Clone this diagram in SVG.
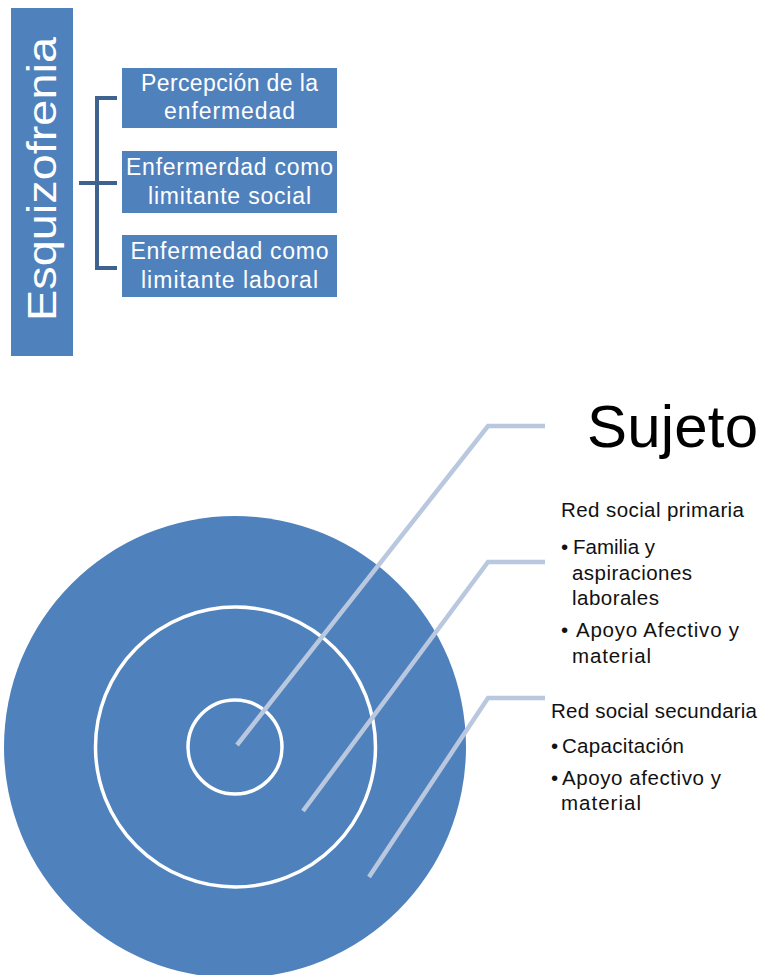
<svg xmlns="http://www.w3.org/2000/svg" width="761" height="975" viewBox="0 0 761 975">
<style>
.box{fill:#4f81bd}
.bt{font-family:"Liberation Sans",Arial,sans-serif;font-size:23px;fill:#fff;text-anchor:middle}
.br{fill:none;stroke:#3f6391;stroke-width:4}
.ring{fill:none;stroke:#fff;stroke-width:3.5}
.ld{fill:none;stroke:#b9c8df;stroke-width:4.5;stroke-linejoin:miter}
.lb{font-family:"Liberation Sans",Arial,sans-serif;font-size:20.5px;fill:#111}
</style>
<rect width="761" height="975" fill="#fff"/>
<g id="esquizofrenia">
<rect class="box" x="11" y="8" width="62" height="348"/>
<text transform="translate(56,179) rotate(-90)" font-family="'Liberation Sans',Arial,sans-serif" font-size="41" fill="#fff" text-anchor="middle" textLength="284" lengthAdjust="spacingAndGlyphs">Esquizofrenia</text>
</g>
<g id="connectors-top">
<path class="br" d="M117,98 H97 V268 H117 M79,183 H117"/>
</g>
<g id="percepcion">
<rect class="box" x="122" y="68" width="215" height="60"/>
<text class="bt" x="229.5" y="91" textLength="177">Percepción de la</text>
<text class="bt" x="229.5" y="119" textLength="131">enfermedad</text>
</g>
<g id="limitante-social">
<rect class="box" x="122" y="151" width="215" height="62"/>
<text class="bt" x="229.5" y="175" textLength="207">Enfermerdad como</text>
<text class="bt" x="229.5" y="204" textLength="163">limitante social</text>
</g>
<g id="limitante-laboral">
<rect class="box" x="122" y="235" width="215" height="62"/>
<text class="bt" x="229.5" y="259" textLength="198">Enfermedad como</text>
<text class="bt" x="229.5" y="288" textLength="177">limitante laboral</text>
</g>
<g id="target">
<circle cx="235" cy="747" r="231" fill="#4f81bd"/>
<circle class="ring" cx="235.5" cy="747" r="140"/>
<circle class="ring" cx="235" cy="747" r="47"/>
</g>
<g id="connectors">
<path class="ld" d="M237,745 L488,426 H545"/>
<path class="ld" d="M303,811 L488,562 H545"/>
<path class="ld" d="M369,877 L488,698 H545"/>
</g>
<g id="sujeto">
<text x="587" y="447" font-family="'Liberation Sans',Arial,sans-serif" font-size="60" fill="#000" textLength="171">Sujeto</text>
</g>
<g id="red-primaria">
<text class="lb" x="561" y="517" textLength="183">Red social primaria</text>
<text class="lb" x="561" y="554">•</text>
<text class="lb" x="573" y="554" textLength="82">Familia y</text>
<text class="lb" x="572" y="580" textLength="120">aspiraciones</text>
<text class="lb" x="572" y="605" textLength="87">laborales</text>
<text class="lb" x="561" y="637">•</text>
<text class="lb" x="576" y="637" textLength="163">Apoyo Afectivo y</text>
<text class="lb" x="572" y="663" textLength="79">material</text>
</g>
<g id="red-secundaria">
<text class="lb" x="551" y="718" textLength="206">Red social secundaria</text>
<text class="lb" x="551" y="753">•</text>
<text class="lb" x="562" y="753" textLength="122">Capacitación</text>
<text class="lb" x="551" y="785">•</text>
<text class="lb" x="562" y="785" textLength="159">Apoyo afectivo y</text>
<text class="lb" x="561" y="810" textLength="80">material</text>
</g>
</svg>
